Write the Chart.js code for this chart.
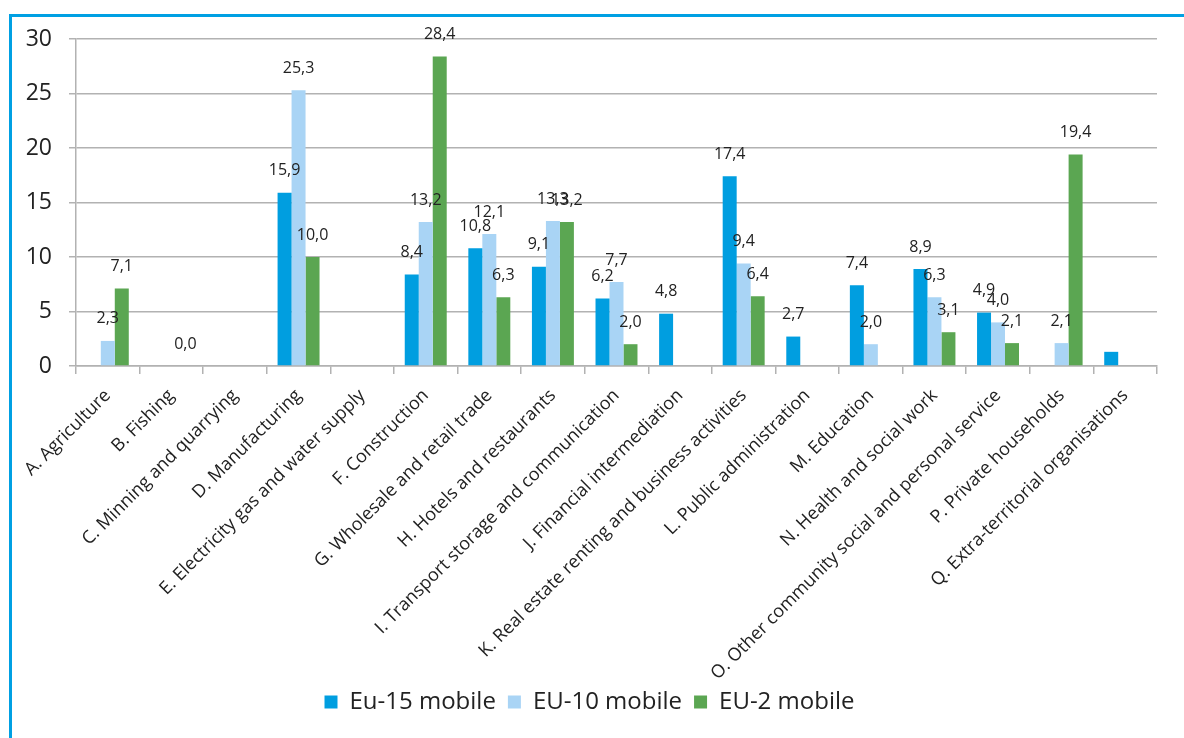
<!DOCTYPE html>
<html>
<head>
<meta charset="utf-8">
<script src="https://cdn.jsdelivr.net/npm/chart.js@4.4.1/dist/chart.umd.min.js"></script>
<style>
  html, body { margin: 0; padding: 0; background: #fff; }
  #wrap { position: relative; width: 1184px; height: 738px; overflow: hidden; }
  #frame {
    position: absolute; left: 9px; top: 14px; right: -10px; bottom: -10px;
    border-left: 3px solid #00a0e3; border-top: 3px solid #00a0e3;
    pointer-events: none;
  }
  canvas { position: absolute; left: 0; top: 0; }
</style>
</head>
<body>
<div id="wrap">
  <canvas id="chart" width="1184" height="738"></canvas>
  <div id="frame"></div>
</div>
<script>
// --- data ---
const categories = [
    'A. Agriculture',
    'B. Fishing',
    'C. Minning and quarrying',
    'D. Manufacturing',
    'E. Electricity gas and water supply',
    'F. Construction',
    'G. Wholesale and retail trade',
    'H. Hotels and restaurants',
    'I. Transport storage and communication',
    'J. Financial intermediation',
    'K. Real estate renting and business activities',
    'L. Public administration',
    'M. Education',
    'N. Health and social work',
    'O. Other community social and personal service',
    'P. Private households',
    'Q. Extra-territorial organisations'
];
const eu15 = [null, null, null, 15.9, null, 8.4, 10.8, 9.1, 6.2, 4.8, 17.4, 2.7, 7.4, 8.9, 4.9, null, 1.3];
const eu10 = [2.3, null, null, 25.3, null, 13.2, 12.1, 13.3, 7.7, null, 9.4, null, 2.0, 6.3, 4.0, 2.1, null];
const eu2 = [7.1, 0.0, null, 10.0, null, 28.4, 6.3, 13.2, 2.0, null, 6.4, null, null, 3.1, 2.1, 19.4, null];
const seriesNames = ['Eu-15 mobile', 'EU-10 mobile', 'EU-2 mobile'];
const yTicks = [0, 5, 10, 15, 20, 25, 30];

// bars without a value label: dataset index -> category indexes
const noLabel = { 0: [16] };

const GRID = '#b2b2b2';
const TEXT = '#222';

Chart.defaults.font.family = "'Open Sans', sans-serif";
Chart.defaults.color = TEXT;

// value labels above each bar, comma decimals
const valueLabels = {
    id: 'valueLabels',
    afterDatasetsDraw(chart) {
        const ctx = chart.ctx;
        ctx.save();
        ctx.font = "16px 'Open Sans', sans-serif";
        ctx.fillStyle = TEXT;
        ctx.textAlign = 'center';
        ctx.textBaseline = 'middle';
        chart.data.datasets.forEach((ds, di) => {
            const meta = chart.getDatasetMeta(di);
            meta.data.forEach((bar, i) => {
                const v = ds.data[i];
                if (v === null || v === undefined) return;
                if (noLabel[di] && noLabel[di].includes(i)) return;
                ctx.fillText(v.toFixed(1).replace('.', ','), bar.x, bar.y - 22);
            });
        });
        ctx.restore();
    }
};

const ctx = document.getElementById('chart').getContext('2d');
new Chart(ctx, {
    type: 'bar',
    data: {
        labels: categories,
        datasets: [
            { label: seriesNames[0], data: eu15, backgroundColor: '#009ee0' },
            { label: seriesNames[1], data: eu10, backgroundColor: '#a9d4f5' },
            { label: seriesNames[2], data: eu2, backgroundColor: '#5ba652' }
        ]
    },
    options: {
        responsive: false,
        animation: false,
        categoryPercentage: 0.66,
        barPercentage: 1.0,
        layout: { padding: { top: 39, right: 27, left: 22, bottom: 14 } },
        scales: {
            x: {
                grid: {
                    offset: true,
                    drawOnChartArea: false,
                    drawTicks: true,
                    tickLength: 8,
                    color: GRID,
                    lineWidth: 1.5
                },
                border: { display: true, color: GRID, width: 1.5 },
                ticks: {
                    autoSkip: false,
                    minRotation: 45,
                    maxRotation: 45,
                    padding: 11,
                    color: TEXT,
                    font: { size: 18 }
                },
                afterFit(scale) { scale.height = 312; }
            },
            y: {
                min: 0,
                max: 30,
                afterBuildTicks(scale) { scale.ticks = yTicks.map(v => ({ value: v })); },
                grid: { color: GRID, lineWidth: 1.5, tickLength: 7 },
                border: { display: true, color: GRID, width: 1.5 },
                ticks: { padding: 17, color: TEXT, font: { size: 23 } },
                afterFit(scale) { scale.width = 54; }
            }
        },
        plugins: {
            legend: {
                position: 'bottom',
                labels: {
                    boxWidth: 13,
                    boxHeight: 13,
                    padding: 12,
                    color: TEXT,
                    font: { size: 24 }
                }
            },
            tooltip: { enabled: false }
        }
    },
    plugins: [valueLabels]
});
</script>
</body>
</html>
